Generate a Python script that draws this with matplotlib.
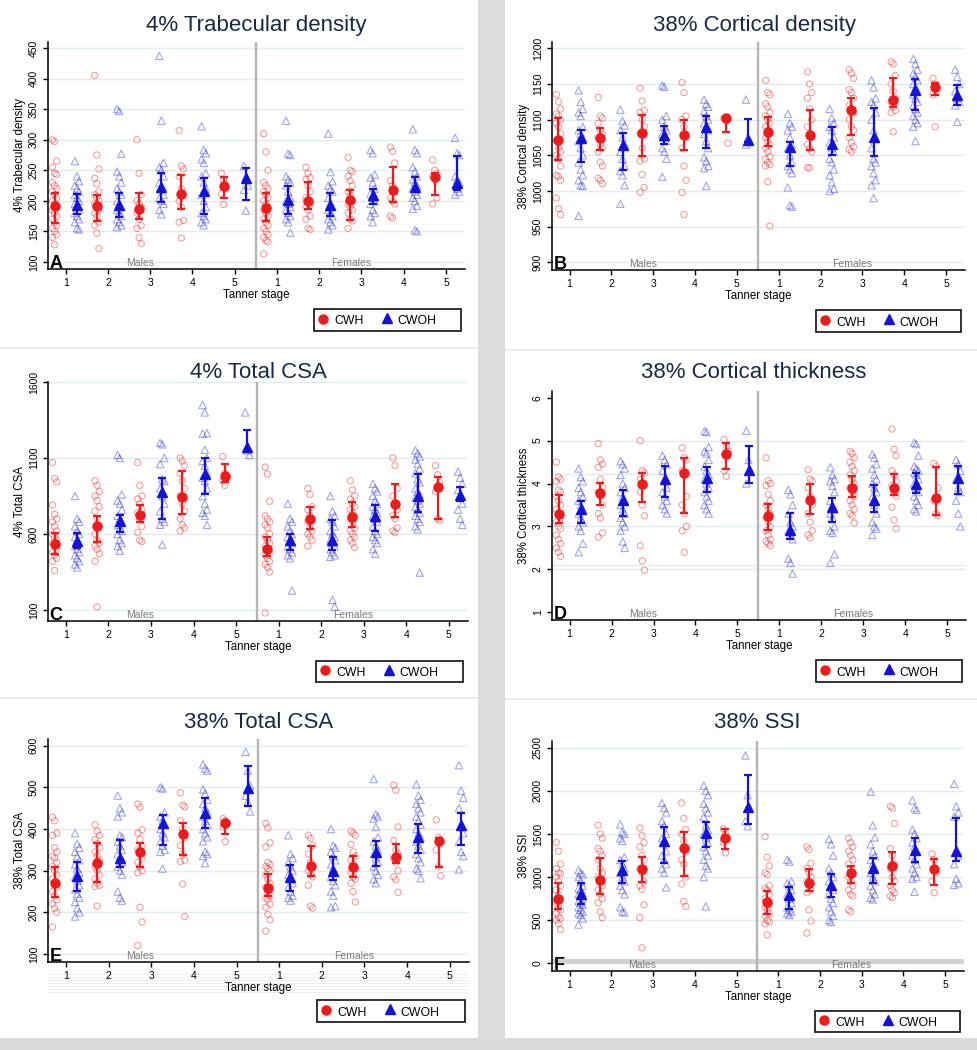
import matplotlib
matplotlib.use("Agg")
import matplotlib.pyplot as plt
from matplotlib.lines import Line2D
from matplotlib.patches import Rectangle

plt.rcParams['font.family'] = ['Liberation Sans', 'DejaVu Sans']

# ---------------- data ----------------
stage_labels = ["1", "2", "3", "4", "5", "1", "2", "3", "4", "5"]
sex_labels = ["Males", "Females"]
legend_labels = ["CWH", "CWOH"]

# Panel A: 4% Trabecular density  (order: M1..M5, F1..F5)
A_cwh_pts = [
    [300, 297, 265, 255, 245, 243, 230, 225, 220, 215, 210, 205, 200, 195, 190, 185, 180, 175, 170, 165, 160, 155, 150, 145, 140, 128],
    [405, 275, 252, 237, 228, 215, 210, 205, 200, 195, 190, 185, 180, 175, 165, 160, 147, 122],
    [300, 245, 210, 200, 195, 190, 180, 170, 160, 155, 140, 130],
    [315, 257, 252, 240, 220, 210, 200, 190, 168, 165, 139],
    [245, 235, 220, 212, 194],
    [310, 280, 250, 230, 225, 220, 215, 210, 205, 200, 195, 190, 185, 180, 175, 170, 165, 160, 155, 150, 145, 140, 135, 133, 113],
    [255, 245, 238, 235, 225, 215, 205, 200, 195, 190, 185, 175, 170, 155, 153],
    [271, 250, 248, 240, 233, 225, 215, 210, 200, 195, 190, 185, 180, 170, 167, 155],
    [288, 281, 262, 233, 225, 215, 205, 200, 195, 175, 172],
    [267, 250, 245, 240, 235, 205, 195],
]
A_cwh_mean = [191, 192, 187, 211, 224, 189, 199, 201, 217, 239]
A_cwh_lo = [163, 167, 170, 186, 204, 167, 186, 168, 198, 209]
A_cwh_hi = [212, 210, 213, 243, 239, 213, 231, 218, 256, 246]
A_cwoh_pts = [
    [265, 240, 232, 225, 220, 215, 210, 205, 200, 195, 190, 185, 180, 175, 170, 165, 155, 153],
    [350, 347, 277, 248, 240, 230, 220, 215, 210, 200, 195, 190, 185, 180, 175, 170, 165, 160, 157],
    [437, 331, 262, 255, 250, 240, 230, 220, 210, 205, 200, 195, 185, 178],
    [322, 283, 278, 268, 262, 245, 240, 230, 220, 210, 200, 190, 180, 175, 170, 165, 160],
    [257, 240, 225, 218, 184],
    [331, 277, 275, 240, 235, 230, 225, 215, 205, 200, 195, 190, 185, 180, 175, 170, 165, 148],
    [310, 247, 232, 225, 220, 215, 205, 195, 190, 185, 180, 175, 170, 165, 160, 153],
    [283, 278, 243, 238, 230, 220, 212, 205, 200, 195, 185, 180, 175, 165],
    [317, 283, 278, 255, 248, 240, 235, 230, 225, 220, 215, 210, 205, 200, 192, 187, 152, 150],
    [303, 278, 275, 240, 235, 230, 225, 220, 215, 210],
]
A_cwoh_mean = [194, 194, 223, 216, 238, 201, 193, 209, 223, 229]
A_cwoh_lo = [179, 174, 198, 179, 202, 179, 176, 195, 215, 218]
A_cwoh_hi = [211, 213, 246, 237, 253, 225, 212, 219, 239, 273]

# Panel B: 38% Cortical density
B_cwh_pts = [
    [1135, 1125, 1115, 1108, 1105, 1100, 1095, 1090, 1080, 1070, 1060, 1055, 1050, 1045, 1035, 1022, 1020, 1015, 990, 975, 967],
    [1131, 1105, 1102, 1095, 1085, 1080, 1075, 1065, 1060, 1055, 1040, 1035, 1018, 1015, 1010],
    [1144, 1126, 1113, 1110, 1100, 1090, 1080, 1060, 1045, 1042, 1023, 1005, 998],
    [1152, 1138, 1105, 1100, 1090, 1075, 1060, 1035, 1015, 998, 967],
    [1102, 1098, 1067],
    [1155, 1138, 1135, 1122, 1118, 1110, 1105, 1100, 1095, 1090, 1085, 1080, 1075, 1070, 1065, 1060, 1055, 1048, 1045, 1040, 1037, 1035, 1013, 951],
    [1167, 1150, 1138, 1130, 1115, 1100, 1090, 1080, 1075, 1065, 1060, 1055, 1033, 1032],
    [1170, 1165, 1158, 1142, 1138, 1130, 1120, 1115, 1110, 1100, 1090, 1085, 1075, 1068, 1062, 1058, 1055],
    [1181, 1178, 1162, 1150, 1140, 1130, 1125, 1118, 1113, 1110, 1083],
    [1158, 1150, 1140, 1135, 1090],
]
B_cwh_mean = [1072, 1074, 1081, 1078, 1102, 1083, 1079, 1114, 1128, 1146]
B_cwh_lo = [1044, 1058, 1049, 1057, 1083, 1063, 1058, 1079, 1117, 1135]
B_cwh_hi = [1102, 1088, 1107, 1099, 1103, 1104, 1114, 1130, 1158, 1152]
B_cwoh_pts = [
    [1141, 1125, 1115, 1110, 1105, 1090, 1085, 1080, 1075, 1070, 1060, 1050, 1040, 1030, 1022, 1015, 1008, 1007, 965],
    [1114, 1098, 1092, 1085, 1075, 1065, 1055, 1045, 1035, 1028, 1022, 1008, 982],
    [1148, 1146, 1105, 1100, 1090, 1085, 1080, 1075, 1070, 1060, 1055, 1045, 1020],
    [1128, 1122, 1118, 1112, 1105, 1100, 1095, 1090, 1085, 1080, 1070, 1060, 1047, 1042, 1035, 1032, 1007],
    [1128, 1075, 1070, 1065],
    [1108, 1095, 1090, 1085, 1075, 1065, 1060, 1050, 1040, 1035, 1030, 1025, 1005, 980, 978],
    [1115, 1102, 1095, 1090, 1085, 1075, 1068, 1060, 1055, 1045, 1040, 1030, 1022, 1012, 1003, 1000],
    [1155, 1145, 1130, 1125, 1120, 1110, 1100, 1085, 1075, 1060, 1045, 1040, 1035, 1025, 1015, 1008, 990],
    [1185, 1178, 1170, 1165, 1160, 1155, 1150, 1145, 1140, 1135, 1130, 1125, 1120, 1115, 1110, 1105, 1100, 1095, 1090, 1070],
    [1170, 1160, 1150, 1140, 1130, 1125, 1120, 1097],
]
B_cwoh_mean = [1074, 1064, 1079, 1089, 1071, 1061, 1066, 1076, 1142, 1135]
B_cwoh_lo = [1041, 1030, 1066, 1060, 1069, 1035, 1051, 1049, 1113, 1121]
B_cwoh_hi = [1085, 1081, 1091, 1105, 1101, 1069, 1089, 1116, 1157, 1149]

# Panel C: 4% Total CSA
C_cwh_pts = [
    [1070, 965, 942, 790, 730, 700, 680, 650, 620, 600, 580, 560, 540, 520, 500, 480, 460, 440, 420, 360],
    [950, 920, 880, 850, 820, 780, 750, 700, 650, 600, 560, 540, 520, 500, 470, 420, 120],
    [1070, 920, 850, 830, 800, 760, 740, 700, 650, 610, 560, 550],
    [1100, 1080, 1050, 1000, 950, 900, 850, 800, 750, 700, 660, 640, 620],
    [1110, 1000, 970, 950, 920],
    [1040, 995, 815, 720, 700, 680, 660, 640, 600, 580, 560, 540, 520, 500, 480, 460, 440, 420, 400, 380, 350, 80],
    [900, 860, 780, 760, 720, 700, 680, 640, 620, 600, 580, 560, 520],
    [950, 890, 850, 830, 800, 780, 760, 740, 720, 700, 680, 640, 620, 600, 580, 560, 540, 510],
    [1100, 1050, 900, 850, 800, 760, 720, 700, 640, 620, 610],
    [1050, 990, 940, 880, 700, 690],
]
C_cwh_mean = [536, 650, 727, 843, 982, 499, 696, 711, 795, 908]
C_cwh_lo = [467, 547, 680, 734, 942, 455, 631, 646, 714, 700]
C_cwh_hi = [607, 718, 788, 1014, 1058, 580, 777, 810, 927, 976]
C_cwoh_pts = [
    [850, 700, 680, 650, 620, 600, 580, 560, 540, 520, 500, 480, 460, 440, 420, 400, 380],
    [1120, 1100, 860, 820, 800, 760, 720, 700, 680, 660, 640, 620, 600, 560, 540, 520, 490],
    [1200, 1190, 1100, 1060, 960, 950, 900, 850, 800, 750, 700, 680, 660, 530],
    [1449, 1400, 1263, 1260, 1154, 1100, 1080, 1050, 1000, 970, 950, 900, 850, 800, 760, 740, 720, 660],
    [1400, 1150, 1120],
    [800, 700, 680, 650, 620, 600, 580, 560, 540, 520, 500, 480, 460, 440, 228],
    [850, 750, 720, 700, 680, 650, 620, 600, 580, 560, 540, 520, 500, 480, 460, 450, 166, 122],
    [930, 900, 880, 850, 820, 800, 780, 760, 740, 720, 700, 680, 650, 620, 600, 580, 560, 540, 500, 470],
    [1150, 1130, 1110, 1090, 1060, 1030, 1000, 960, 940, 900, 880, 860, 840, 820, 800, 780, 760, 740, 720, 700, 680, 650, 630, 346],
    [1010, 970, 930, 890, 850, 800, 760, 700, 660],
]
C_cwoh_mean = [552, 683, 877, 997, 1172, 558, 558, 718, 850, 856]
C_cwoh_lo = [507, 613, 701, 866, 1139, 492, 492, 617, 746, 817]
C_cwoh_hi = [607, 722, 971, 1102, 1282, 602, 693, 788, 992, 911]

# Panel D: 38% Cortical thickness
D_cwh_pts = [
    [4.5, 4.15, 4.1, 4.05, 3.85, 3.8, 3.7, 3.6, 3.5, 3.4, 3.3, 3.2, 3.1, 3.0, 2.95, 2.8, 2.7, 2.6, 2.5, 2.4, 2.3],
    [4.93, 4.55, 4.45, 4.38, 4.1, 3.9, 3.8, 3.7, 3.5, 3.3, 3.2, 2.85, 2.75],
    [5.0, 4.3, 4.25, 4.1, 4.0, 3.95, 3.8, 3.5, 3.25, 2.55, 2.2, 1.98],
    [4.83, 4.6, 4.55, 4.3, 4.2, 3.7, 3.5, 3.3, 3.0, 2.9, 2.4],
    [5.02, 4.85, 4.75, 4.3, 4.17],
    [4.6, 4.07, 4.0, 3.95, 3.75, 3.6, 3.5, 3.4, 3.3, 3.2, 3.1, 3.0, 2.9, 2.8, 2.7, 2.65, 2.6, 2.55],
    [4.32, 4.1, 4.05, 3.9, 3.7, 3.5, 3.3, 3.1, 2.9, 2.8, 2.73],
    [4.75, 4.7, 4.6, 4.5, 4.4, 4.3, 4.2, 4.1, 4.0, 3.9, 3.8, 3.7, 3.6, 3.5, 3.4, 3.3, 3.25, 3.08],
    [5.27, 4.8, 4.65, 4.3, 4.2, 4.05, 3.95, 3.8, 3.7, 3.45, 3.15, 2.95],
    [4.47, 4.4, 3.9, 3.6, 3.3, 3.25],
]
D_cwh_mean = [3.28, 3.79, 3.98, 4.24, 4.69, 3.24, 3.62, 3.90, 3.90, 3.66]
D_cwh_lo = [3.07, 3.50, 3.58, 3.31, 4.33, 2.92, 3.29, 3.69, 3.73, 3.27]
D_cwh_hi = [3.73, 4.02, 4.24, 4.59, 4.94, 3.52, 4.00, 4.18, 4.22, 4.39]
D_cwoh_pts = [
    [4.35, 4.15, 4.05, 3.9, 3.8, 3.7, 3.6, 3.5, 3.4, 3.3, 3.2, 3.1, 3.0, 2.9, 2.6, 2.4],
    [4.52, 4.45, 4.35, 4.2, 4.0, 3.9, 3.8, 3.7, 3.6, 3.5, 3.4, 3.3, 3.2, 3.1, 3.0, 2.9, 2.65, 2.5],
    [4.65, 4.55, 4.45, 4.3, 4.1, 3.9, 3.8, 3.7, 3.6, 3.5, 3.4, 3.3],
    [5.22, 5.2, 4.85, 4.75, 4.7, 4.55, 4.4, 4.3, 4.2, 4.1, 4.0, 3.9, 3.8, 3.7, 3.6, 3.5, 3.4, 3.3],
    [5.23, 4.55, 4.3, 4.0],
    [3.85, 3.75, 3.5, 3.3, 3.1, 3.0, 2.9, 2.8, 2.7, 2.25, 2.15, 1.9],
    [4.38, 4.2, 4.1, 4.05, 3.95, 3.8, 3.6, 3.5, 3.4, 3.3, 3.2, 3.0, 2.9, 2.85, 2.35, 2.15],
    [4.68, 4.6, 4.45, 4.35, 4.2, 4.1, 4.0, 3.9, 3.8, 3.7, 3.5, 3.3, 3.1, 3.0, 2.95, 2.8],
    [4.95, 4.92, 4.65, 4.4, 4.35, 4.3, 4.25, 4.2, 4.1, 4.0, 3.9, 3.8, 3.7, 3.6, 3.5, 3.4, 3.35],
    [4.55, 4.45, 4.3, 4.1, 3.9, 3.8, 3.6, 3.3, 3.0],
]
D_cwoh_mean = [3.40, 3.62, 4.10, 4.12, 4.32, 2.92, 3.46, 3.62, 4.00, 4.14]
D_cwoh_lo = [3.07, 3.25, 3.69, 3.81, 4.02, 2.70, 3.11, 3.33, 3.77, 3.76]
D_cwoh_hi = [3.60, 3.86, 4.41, 4.39, 4.87, 3.31, 3.66, 3.97, 4.24, 4.41]

# Panel E: 38% Total CSA
E_cwh_pts = [
    [428, 420, 390, 385, 355, 345, 335, 330, 320, 310, 300, 290, 280, 270, 260, 250, 240, 230, 220, 210, 200, 165],
    [410, 395, 385, 375, 365, 355, 345, 335, 325, 310, 300, 290, 280, 270, 265, 262, 215],
    [460, 452, 398, 390, 375, 360, 350, 340, 330, 320, 310, 300, 295, 212, 177, 120],
    [487, 457, 453, 420, 400, 380, 360, 340, 325, 322, 268, 190],
    [425, 420, 415, 405, 370],
    [413, 403, 367, 357, 320, 315, 310, 305, 300, 290, 280, 270, 260, 250, 240, 235, 230, 220, 212, 195, 182, 155],
    [385, 378, 360, 340, 320, 310, 300, 290, 285, 265, 215, 210],
    [395, 390, 385, 363, 345, 335, 325, 315, 305, 295, 285, 280, 270, 250, 225],
    [505, 493, 405, 373, 350, 340, 330, 320, 300, 285, 278, 248],
    [422, 380, 370, 350, 310, 288],
]
E_cwh_mean = [270, 319, 346, 388, 414, 259, 312, 308, 334, 372]
E_cwh_lo = [238, 274, 308, 338, 387, 239, 287, 286, 318, 310]
E_cwh_hi = [310, 366, 367, 415, 420, 291, 360, 335, 364, 378]
E_cwoh_pts = [
    [390, 365, 355, 345, 335, 325, 315, 305, 295, 285, 275, 265, 255, 245, 235, 225, 210, 200, 190],
    [480, 450, 440, 430, 385, 380, 370, 360, 350, 340, 330, 320, 310, 300, 290, 250, 235, 228],
    [500, 497, 440, 430, 420, 410, 400, 390, 380, 370, 360, 350, 345, 305],
    [555, 545, 540, 495, 485, 470, 460, 450, 440, 430, 420, 410, 400, 390, 380, 370, 345, 340, 335, 318],
    [585, 540, 505, 480, 465, 442],
    [385, 340, 330, 320, 310, 300, 290, 280, 270, 260, 250, 240, 235, 228],
    [400, 360, 355, 345, 335, 325, 315, 305, 295, 285, 275, 265, 250, 240, 215, 212],
    [520, 435, 430, 425, 405, 380, 370, 360, 350, 340, 330, 320, 310, 300, 290, 280, 270],
    [507, 480, 470, 460, 450, 440, 430, 420, 410, 400, 390, 380, 370, 360, 350, 340, 330, 320, 305, 300, 282],
    [553, 492, 475, 450, 410, 390, 370, 345, 335, 303],
]
E_cwoh_mean = [288, 330, 414, 439, 498, 284, 299, 346, 382, 410]
E_cwoh_lo = [252, 310, 362, 402, 456, 252, 278, 311, 342, 362]
E_cwoh_hi = [320, 374, 434, 475, 551, 314, 334, 372, 412, 439]

# Panel F: 38% SSI
F_cwh_pts = [
    [1400, 1300, 1150, 1100, 1050, 1040, 1000, 950, 900, 850, 800, 750, 700, 650, 620, 580, 540, 520, 500, 460, 390],
    [1600, 1500, 1450, 1330, 1300, 1250, 1200, 1100, 1050, 1000, 950, 900, 850, 800, 750, 700, 600, 530],
    [1570, 1480, 1400, 1350, 1250, 1200, 1100, 1050, 950, 900, 860, 680, 530, 180],
    [1860, 1680, 1550, 1500, 1420, 1300, 1200, 1150, 1000, 920, 720, 660],
    [1560, 1500, 1450, 1400, 1280],
    [1470, 1230, 1130, 1050, 1030, 900, 870, 850, 800, 750, 700, 680, 650, 620, 580, 550, 500, 480, 460, 330],
    [1350, 1320, 1160, 1100, 1050, 1000, 950, 900, 850, 820, 620, 490, 350],
    [1450, 1400, 1350, 1300, 1250, 1200, 1150, 1100, 1050, 1000, 950, 900, 850, 800, 780, 620, 600],
    [1820, 1800, 1620, 1330, 1250, 1150, 1100, 1000, 950, 900, 850, 820, 780, 760],
    [1270, 1200, 1050, 950, 820],
]
F_cwh_mean = [746, 966, 1090, 1341, 1449, 707, 935, 1051, 1128, 1090]
F_cwh_lo = [626, 804, 947, 1012, 1321, 572, 842, 927, 920, 908]
F_cwh_hi = [935, 1225, 1229, 1519, 1557, 842, 1090, 1128, 1287, 1209]
F_cwoh_pts = [
    [1080, 1050, 1030, 1000, 950, 900, 870, 850, 820, 800, 780, 750, 720, 700, 680, 650, 620, 600, 580, 560, 520, 450],
    [1610, 1520, 1500, 1450, 1420, 1230, 1200, 1150, 1100, 1050, 1000, 950, 900, 850, 800, 650, 600, 590],
    [1860, 1800, 1750, 1650, 1600, 1500, 1450, 1400, 1300, 1250, 1200, 1150, 1100, 1050, 880],
    [2060, 2000, 1950, 1850, 1800, 1750, 1700, 1600, 1550, 1500, 1450, 1400, 1350, 1300, 1250, 1200, 1130, 1100, 1000, 660],
    [2410, 1950, 1800, 1650, 1590],
    [1200, 1180, 950, 930, 900, 850, 800, 750, 700, 650, 620, 600, 580, 560],
    [1440, 1380, 1250, 1100, 1050, 1000, 950, 900, 850, 800, 750, 700, 650, 600, 550, 500, 480],
    [1990, 1600, 1460, 1380, 1300, 1250, 1200, 1150, 1100, 1050, 1000, 950, 900, 850, 800, 760, 740],
    [1890, 1800, 1780, 1550, 1500, 1450, 1400, 1350, 1300, 1250, 1200, 1150, 1100, 1050, 1000, 980, 830],
    [2080, 1820, 1750, 1700, 1300, 1250, 1150, 980, 930, 910],
]
F_cwoh_mean = [804, 1082, 1418, 1507, 1808, 792, 908, 1101, 1314, 1306]
F_cwoh_lo = [688, 935, 1159, 1352, 1615, 626, 765, 935, 1178, 1186]
F_cwoh_hi = [927, 1186, 1584, 1642, 2183, 889, 1032, 1217, 1449, 1681]

# ---------------- styling ----------------
W, H = 978, 1050
RED = '#ec1c1c'
BLUE = '#1212d8'
NAVY = '#1b2846'
GRID = '#e3ecee'

fig = plt.figure(figsize=(W / 100, H / 100), dpi=100)
fig.patch.set_facecolor('white')


def fx(px):
    return px / W


def fy(py):
    return 1 - py / H


def frect(x0, y0, x1, y1, color, z=0):
    fig.add_artist(Rectangle((fx(x0), fy(y1)), fx(x1) - fx(x0), fy(y0) - fy(y1),
                             transform=fig.transFigure, facecolor=color,
                             edgecolor='none', zorder=z))


# background separators
frect(478, 0, 505, H, '#dcdcdc')
frect(0, 1038, W, H, '#d9d9d9')
frect(0, 347, 478, 348.5, '#ececec')
frect(505, 349, W, 350.5, '#ececec')
frect(0, 697, 478, 698.5, '#ececec')
frect(505, 698, W, 699.5, '#ececec')

JIT = [-0.05, 0.0, 0.05]
OFF = 0.265


def panel(box, ylim, yticks, ylabel, title, tpos, letter, lbox,
          cwh_pts, cwh_mean, cwh_lo, cwh_hi,
          cwoh_pts, cwoh_mean, cwoh_lo, cwoh_hi, grid=None):
    l, r, t, b = box
    ax = fig.add_axes([fx(l), fy(b), fx(r) - fx(l), fy(t) - fy(b)])
    ax.set_facecolor('none')
    ax.set_xlim(0.58, 10.45)
    ax.set_ylim(*ylim)
    for g in (grid if grid is not None else yticks):
        ax.axhline(g, color=GRID, lw=1.0, zorder=0)
    ax.axvline(5.5, color='#b5b5b5', lw=1.7, zorder=1)

    for gi in range(10):
        xc = gi + 1
        pts = cwh_pts[gi]
        ax.scatter([xc - OFF + JIT[i % 3] for i in range(len(pts))], pts, s=20,
                   facecolors='none', edgecolors=(0.93, 0.1, 0.1, 0.42),
                   linewidths=0.8, marker='o', zorder=2)
        pts = cwoh_pts[gi]
        ax.scatter([xc + OFF + JIT[i % 3] for i in range(len(pts))], pts, s=28,
                   facecolors='none', edgecolors=(0.07, 0.07, 0.85, 0.38),
                   linewidths=0.8, marker='^', zorder=2)

    xs = [i + 1 for i in range(10)]
    ax.errorbar([x - OFF for x in xs], cwh_mean,
                yerr=[[m - lo for m, lo in zip(cwh_mean, cwh_lo)],
                      [hi - m for m, hi in zip(cwh_mean, cwh_hi)]],
                fmt='o', color=RED, ms=6.5, capsize=3.2, elinewidth=1.6,
                capthick=1.6, zorder=4)
    ax.errorbar([x + OFF for x in xs], cwoh_mean,
                yerr=[[m - lo for m, lo in zip(cwoh_mean, cwoh_lo)],
                      [hi - m for m, hi in zip(cwoh_mean, cwoh_hi)]],
                fmt='^', color=BLUE, ms=7, capsize=3.2, elinewidth=1.6,
                capthick=1.6, zorder=4)

    for s in ('top', 'right'):
        ax.spines[s].set_visible(False)
    for s in ('left', 'bottom'):
        ax.spines[s].set_linewidth(1.1)
        ax.spines[s].set_zorder(5)
    ax.set_xticks(xs)
    ax.set_xticklabels(stage_labels)
    ax.set_yticks(yticks)
    ax.set_yticklabels([f"{v:g}" for v in yticks])
    ax.tick_params(axis='both', length=3.6, width=1, labelsize=7.5, pad=3,
                   colors='black')
    ax.tick_params(axis='y', labelrotation=90)
    for lab in ax.get_yticklabels():
        lab.set_va('center')
    ax.set_xlabel('Tanner stage', fontsize=8.3, labelpad=0.5)
    ax.set_ylabel(ylabel, fontsize=8.3)
    axw = r - l
    ax.yaxis.set_label_coords(-22.0 / axw, 0.5)

    trans = ax.get_xaxis_transform()
    ax.text(2.75, 0.006, sex_labels[0], transform=trans, ha='center',
            va='bottom', color='#7a7a7a', fontsize=7.5)
    ax.text(7.75, 0.006, sex_labels[1], transform=trans, ha='center',
            va='bottom', color='#7a7a7a', fontsize=7.5)
    ax.text(0.004, -0.012, letter, transform=ax.transAxes, ha='left',
            va='bottom', fontsize=13, fontweight='bold', zorder=6)

    fig.text(fx(tpos[0]), fy(tpos[1]), title, ha='center', va='center',
             fontsize=16, color=NAVY)

    # legend
    x0, y0, x1, y1 = lbox
    fig.add_artist(Rectangle((fx(x0), fy(y1)), fx(x1) - fx(x0), fy(y0) - fy(y1),
                             transform=fig.transFigure, facecolor='white',
                             edgecolor='#222222', lw=1.3, zorder=3))
    ymid = (y0 + y1) / 2
    fig.add_artist(Line2D([fx(x0 + 9)], [fy(ymid - 1.5)], marker='o', color=RED,
                          ms=6.5, transform=fig.transFigure, zorder=4))
    fig.text(fx(x0 + 20), fy(ymid), legend_labels[0], ha='left',
             va='center_baseline', fontsize=8.8, zorder=4)
    fig.add_artist(Line2D([fx(x0 + 73)], [fy(ymid - 2)], marker='^', color=BLUE,
                          ms=7, transform=fig.transFigure, zorder=4))
    fig.text(fx(x0 + 83), fy(ymid), legend_labels[1], ha='left',
             va='center_baseline', fontsize=8.8, zorder=4)
    return ax


axA = panel((48, 465, 42, 269), (88.5, 459.8), [100, 150, 200, 250, 300, 350, 400, 450],
            '4% Trabecular density', '4% Trabecular density', (256, 25), 'A',
            (314, 309, 461, 331),
            A_cwh_pts, A_cwh_mean, A_cwh_lo, A_cwh_hi,
            A_cwoh_pts, A_cwoh_mean, A_cwoh_lo, A_cwoh_hi)

axB = panel((552, 965, 42, 270), (889.2, 1208.8), [900, 950, 1000, 1050, 1100, 1150, 1200],
            '38% Cortical density', '38% Cortical density', (755, 25), 'B',
            (816, 310, 961, 332),
            B_cwh_pts, B_cwh_mean, B_cwh_lo, B_cwh_hi,
            B_cwoh_pts, B_cwoh_mean, B_cwoh_lo, B_cwoh_hi)

axC = panel((48, 468, 382, 621), (27.5, 1600), [100, 600, 1100, 1600],
            '4% Total CSA', '4% Total CSA', (258, 373), 'C',
            (316, 661, 463, 682),
            C_cwh_pts, C_cwh_mean, C_cwh_lo, C_cwh_hi,
            C_cwoh_pts, C_cwoh_mean, C_cwoh_lo, C_cwoh_hi)

axD = panel((552, 966, 391, 620), (0.82, 6.156), [1, 2, 3, 4, 5, 6],
            '38% Cortical thickness', '38% Cortical thickness', (754, 373), 'D',
            (816, 660, 962, 682),
            D_cwh_pts, D_cwh_mean, D_cwh_lo, D_cwh_hi,
            D_cwoh_pts, D_cwoh_mean, D_cwoh_lo, D_cwoh_hi,
            grid=[2.0, 2.1, 3.0, 4.22, 5.0])

axE = panel((48, 469, 739, 962), (80.8, 616), [100, 200, 300, 400, 500, 600],
            '38% Total CSA', '38% Total CSA', (259, 722), 'E',
            (317, 1000, 465, 1022),
            E_cwh_pts, E_cwh_mean, E_cwh_lo, E_cwh_hi,
            E_cwoh_pts, E_cwoh_mean, E_cwoh_lo, E_cwoh_hi)

axF = panel((552, 964, 741, 971), (-89, 2578), [0, 500, 1000, 1500, 2000, 2500],
            '38% SSI', '38% SSI', (757, 723), 'F',
            (815, 1011, 960, 1032),
            F_cwh_pts, F_cwh_mean, F_cwh_lo, F_cwh_hi,
            F_cwoh_pts, F_cwoh_mean, F_cwoh_lo, F_cwoh_hi)
axF.axhline(25, color='#d2d2d2', lw=3.5, zorder=0.5)

# faint striped band behind the x labels of panel E
for k in range(7):
    frect(48, 974 + k * 3, 469, 975 + k * 3, '#efefef')

fig.savefig('out.png', dpi=100, facecolor='white')
